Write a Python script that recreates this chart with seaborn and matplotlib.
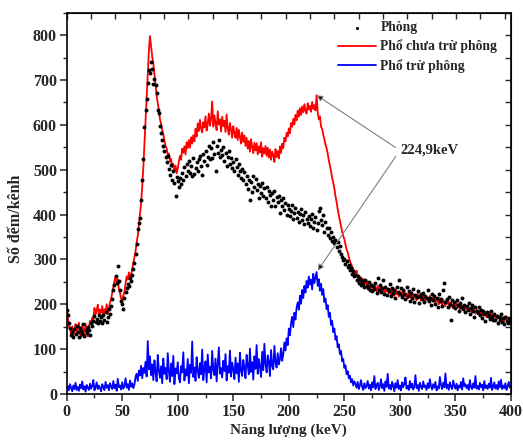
import numpy as np
import pandas as pd
import seaborn as sns
import matplotlib
matplotlib.use("Agg")
import matplotlib.pyplot as plt

# Energy grid (keV), one value per keV
energy_line = np.arange(0, 401)
energy_bg = np.arange(0, 400)

# Pho chua tru phong (red), counts per channel
raw_counts = [
    205, 172, 150, 146, 133, 151, 128, 143, 156, 134,
    147, 159, 138, 126, 152, 144, 131, 157, 140, 128,
    149, 163, 155, 170, 166, 192, 178, 186, 199, 174,
    188, 181, 196, 172, 189, 183, 200, 178, 191, 204,
    212, 226, 238, 252, 262, 247, 256, 233, 225, 213,
    208, 219, 228, 246, 262, 255, 271, 258, 266, 279,
    292, 305, 318, 339, 352, 378, 401, 425, 462, 505,
    558, 612, 668, 721, 765, 798, 776, 752, 738, 712,
    690, 665, 648, 633, 612, 602, 588, 579, 566, 552,
    548, 531, 536, 518, 524, 506, 513, 497, 509, 492,
    503, 518, 531, 522, 547, 538, 552, 534, 561, 548,
    566, 549, 572, 558, 577, 563, 591, 574, 603, 586,
    611, 592, 583, 606, 594, 619, 587, 602, 625, 598,
    614, 652, 596, 621, 603, 588, 630, 601, 612, 585,
    618, 597, 609, 584, 623, 592, 578, 604, 589, 571,
    597, 582, 571, 593, 566, 589, 574, 558, 583, 562,
    576, 553, 571, 547, 564, 540, 568, 551, 537, 560,
    543, 559, 534, 552, 538, 561, 529, 548, 536, 553,
    531, 549, 527, 545, 522, 540, 533, 517, 546, 528,
    541, 525, 552, 537, 558, 548, 571, 563, 582, 574,
    592, 581, 604, 596, 613, 601, 622, 610, 632, 618,
    637, 622, 641, 628, 646, 631, 625, 648, 634, 642,
    629, 651, 636, 644, 632, 666, 628, 612, 619, 596,
    591, 578, 568, 556, 548, 536, 521, 509, 497, 482,
    471, 458, 441, 428, 412, 398, 386, 374, 362, 352,
    345, 333, 322, 316, 305, 297, 290, 284, 278, 271,
    268, 275, 258, 264, 252, 260, 249, 257, 246, 253,
    244, 251, 239, 248, 236, 245, 233, 242, 238, 229,
    241, 230, 237, 226, 239, 232, 224, 236, 228, 233,
    225, 234, 221, 231, 226, 219, 233, 222, 228, 217,
    229, 220, 226, 214, 231, 218, 224, 212, 227, 219,
    215, 226, 211, 222, 217, 209, 224, 213, 220, 208,
    218, 211, 223, 207, 216, 212, 204, 219, 209, 214,
    206, 215, 203, 212, 208, 200, 214, 205, 199, 210,
    203, 196, 209, 201, 206, 193, 204, 198, 191, 202,
    197, 205, 192, 199, 189, 201, 194, 187, 198, 190,
    195, 186, 193, 184, 190, 181, 192, 185, 179, 188,
    183, 177, 187, 180, 175, 184, 176, 182, 171, 179,
    176, 183, 172, 178, 169, 177, 173, 166, 175, 170,
    168, 174, 165, 171, 162, 169, 173, 160, 167, 164,
    168,
]

# Pho tru phong (blue)
net_counts = [
    12, 18, 8, 22, 14, 6, 19, 11, 25, 9,
    16, 7, 21, 13, 28, 10, 17, 5, 20, 14,
    9, 23, 12, 18, 31, 8, 15, 26, 11, 19,
    13, 6, 22, 16, 9, 27, 14, 20, 8, 24,
    17, 11, 29, 13, 21, 7, 34, 15, 19, 10,
    26, 12, 18, 35, 14, 22, 9, 30, 16, 24,
    13, 21, 38, 45, 29, 52, 41, 63, 35, 58,
    47, 72, 39, 118, 55, 84, 42, 66, 31, 75,
    49, 28, 87, 53, 36, 62, 24, 79, 45, 58,
    33, 91, 51, 27, 68, 40, 85, 22, 57, 46,
    71, 35, 26, 62, 48, 93, 30, 55, 41, 78,
    24, 65, 47, 117, 38, 59, 29, 82, 52, 36,
    69, 44, 99, 31, 57, 73, 26, 88, 48, 61,
    35, 96, 54, 42, 79, 28, 66, 104, 45, 58,
    37, 74, 51, 89, 30, 62, 47, 97, 39, 70,
    55, 33, 81, 46, 68, 27, 92, 52, 40, 76,
    58, 35, 87, 63, 44, 101, 49, 71, 32, 84,
    56, 109, 45, 78, 61, 38, 94, 53, 112, 67,
    48, 86, 72, 40, 98, 63, 55, 107, 70, 59,
    91, 66, 78, 102, 74, 88, 115, 97, 124, 109,
    146, 131, 158, 172, 149, 181, 166, 193, 204, 188,
    219, 201, 232, 214, 241, 226, 252, 237, 262, 244,
    255, 233, 268, 247, 259, 272, 241, 256, 230, 246,
    221, 234, 205, 213, 189, 198, 172, 181, 154, 163,
    138, 146, 121, 129, 104, 111, 89, 96, 73, 78,
    58, 64, 44, 51, 35, 41, 26, 33, 19, 28,
    22, 14, 27, 11, 19, 31, 16, 9, 24, 13,
    18, 29, 12, 21, 8, 26, 15, 40, 11, 19,
    25, 9, 17, 33, 13, 22, 7, 28, 16, 45,
    12, 20, 10, 27, 18, 6, 24, 14, 31, 11,
    19, 8, 26, 15, 22, 37, 12, 18, 9, 29,
    14, 23, 10, 17, 42, 13, 20, 7, 25, 16,
    11, 28, 15, 19, 9, 24, 13, 33, 18, 10,
    22, 14, 27, 8, 17, 12, 38, 20, 11, 25,
    15, 46, 13, 21, 9, 26, 16, 11, 30, 18,
    12, 23, 8, 19, 14, 27, 10, 35, 17, 22,
    13, 20, 9, 31, 16, 11, 24, 14, 40, 12,
    18, 10, 25, 15, 21, 8, 29, 13, 19, 11,
    23, 14, 36, 9, 17, 26, 12, 20, 10, 28,
    15, 32, 11, 19, 13, 24, 9, 17, 27, 14,
    18,
]

# Phong (background, black dots)
bg_counts = [
    188, 176, 158, 147, 131, 139, 128, 145, 134, 151,
    138, 126, 147, 141, 133, 155, 129, 143, 136, 149,
    142, 131, 158, 152, 163, 174, 161, 168, 159, 177,
    162, 171, 158, 176, 165, 182, 160, 172, 189, 178,
    196, 212, 231, 244, 263, 248, 286, 252, 231, 208,
    201, 189, 214, 228, 237, 246, 241, 258, 252, 266,
    278, 291, 312, 335, 368, 381, 392, 433, 478, 524,
    596, 632, 658, 694, 722, 716, 741, 724, 691, 702,
    688, 672, 634, 627, 598, 581, 566, 553, 541, 528,
    518, 531, 502, 489, 511, 477, 496, 471, 442, 483,
    474, 462, 481, 468, 493, 478, 505, 486, 512, 497,
    520, 493, 508, 486, 526, 491, 503, 517, 498, 524,
    531, 508, 489, 536, 519, 542, 511, 529, 553, 524,
    548, 527, 561, 535, 497, 552, 538, 566, 529, 544,
    532, 551, 519, 537, 508, 529, 541, 512, 526, 503,
    518, 496, 524, 507, 489, 513, 498, 481, 502, 476,
    494, 469, 487, 458, 478, 433, 472, 451, 486, 462,
    479, 455, 468, 437, 463, 448, 471, 442, 459, 436,
    461, 428, 452, 444, 419, 447, 432, 453, 418, 438,
    427, 441, 403, 432, 419, 436, 411, 425, 398, 421,
    413, 396, 408, 421, 389, 403, 414, 392, 406, 384,
    401, 412, 387, 398, 379, 405, 391, 382, 397, 374,
    389, 402, 371, 384, 395, 366, 381, 409, 414, 388,
    376, 398, 362, 384, 369, 355, 371, 348, 362, 340,
    351, 336, 344, 327, 338, 318, 329, 311, 305, 298,
    301, 289, 296, 282, 287, 276, 281, 268, 274, 262,
    266, 255, 262, 248, 257, 243, 251, 246, 238, 254,
    241, 236, 249, 232, 244, 229, 240, 235, 247, 226,
    258, 231, 242, 227, 236, 253, 224, 239, 221, 234,
    229, 246, 218, 237, 225, 232, 214, 239, 227, 255,
    222, 236, 217, 231, 224, 212, 238, 219, 229, 208,
    225, 214, 233, 206, 221, 216, 229, 202, 218, 224,
    211, 226, 204, 219, 213, 231, 207, 215, 198, 222,
    209, 218, 201, 214, 195, 223, 207, 212, 196, 231,
    248, 204, 211, 193, 216, 201, 165, 209, 197, 205,
    192, 210, 198, 186, 203, 195, 213, 189, 199, 182,
    196, 187, 203, 179, 191, 199, 184, 172, 193, 186,
    181, 194, 175, 188, 169, 185, 178, 163, 182, 174,
    177, 168, 185, 171, 164, 179, 166, 174, 159, 172,
    165, 178, 161, 169, 156, 171, 163, 158, 170, 162,
]

peak_label = "224,9keV"
peak_energy = 225

lines_df = pd.DataFrame({'E': energy_line, 'raw': raw_counts, 'net': net_counts})
bg_df = pd.DataFrame({'E': energy_bg, 'bg': bg_counts})

sns.set_style('ticks')
plt.rcParams['font.family'] = ['Liberation Serif', 'DejaVu Serif']
plt.rcParams['font.weight'] = 'bold'

fig = plt.figure(figsize=(5.23, 4.46), dpi=100)
ax = fig.add_axes([0.1275, 0.1166, 0.8495, 0.855])

sns.lineplot(data=lines_df, x='E', y='raw', ax=ax, color='#ff0000', lw=1.3,
             estimator=None, label='Phổ chưa trừ phông', zorder=2)
sns.lineplot(data=lines_df, x='E', y='net', ax=ax, color='#0000ff', lw=1.3,
             estimator=None, label='Phổ trừ phông', zorder=2)
sns.scatterplot(data=bg_df, x='E', y='bg', ax=ax, color='black', s=8,
                linewidth=0, label='Phòng', zorder=3)

ax.set_xlim(0, 400)
ax.set_ylim(0, 850)
ax.set_xticks(np.arange(0, 401, 50))
ax.set_xticks(np.arange(0, 401, 25), minor=True)
ax.set_yticks(np.arange(0, 801, 100))
ax.set_yticks(np.arange(0, 851, 50), minor=True)
ax.tick_params(which='major', direction='out', length=5, width=1.1,
               labelsize=11.5, pad=2)
ax.tick_params(which='minor', direction='out', length=3, width=1.0)
for lab in ax.get_xticklabels() + ax.get_yticklabels():
    lab.set_fontweight('bold')

# mirrored ticks on top and right
top = ax.secondary_xaxis('top')
top.set_xticks(np.arange(0, 401, 21.9))
top.tick_params(direction='in', length=4, width=1.0, labeltop=False)
right = ax.secondary_yaxis('right')
right.set_yticks(np.arange(0, 851, 50))
right.tick_params(direction='in', length=4, width=1.0, labelright=False)

for sp in ax.spines.values():
    sp.set_linewidth(1.2)
    sp.set_color('black')

ax.set_xlabel('Năng lượng (keV)', fontsize=11, fontweight='bold', labelpad=3)
ax.set_ylabel('Số đếm/kênh', fontsize=11.5, fontweight='bold')
ax.yaxis.set_label_coords(-0.097, 0.46)

# arrows from the label to both peaks
arrow = dict(arrowstyle='-|>', ec='#808080', fc='black', lw=0.8,
             mutation_scale=9, relpos=(0, 0.5), shrinkA=1, shrinkB=0)
ax.annotate(peak_label, xy=(peak_energy, raw_counts[peak_energy]),
            xytext=(300, 543), fontsize=10.5, fontweight='bold',
            ha='left', va='center', arrowprops=arrow)
ax.annotate(peak_label, xy=(peak_energy + 1, net_counts[peak_energy] + 3),
            xytext=(300, 543), fontsize=10.5, fontweight='bold',
            ha='left', va='center', arrowprops=arrow, alpha=0)

h, l = ax.get_legend_handles_labels()
order = [l.index('Phòng'), l.index('Phổ chưa trừ phông'), l.index('Phổ trừ phông')]
leg = ax.legend([h[i] for i in order], [l[i] for i in order],
                loc='upper left', bbox_to_anchor=(0.605, 0.985), frameon=False,
                fontsize=9.8, handlelength=2.8, handletextpad=0.3,
                labelspacing=0.4, borderaxespad=0, borderpad=0.2,
                markerscale=0.8)
for t in leg.get_texts():
    t.set_fontweight('bold')

fig.savefig('out.png', dpi=100)
